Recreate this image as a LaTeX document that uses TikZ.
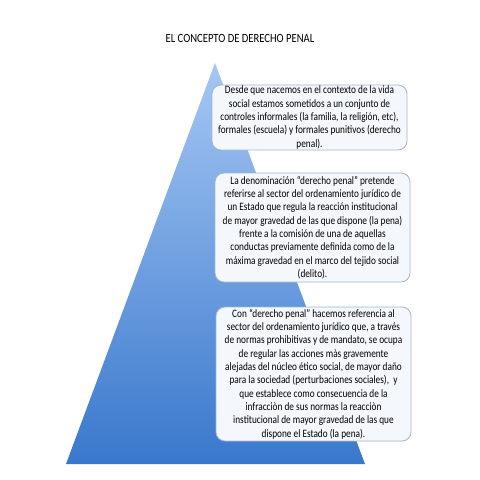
\documentclass[tikz,border=0pt]{standalone}
\usepackage{fontspec}
\setmainfont[FakeStretch=0.82]{Carlito}
\newfontfamily\titlefont[FakeStretch=0.85]{Carlito}
\usetikzlibrary{shadings}
\definecolor{triTop}{HTML}{A6C7F4}
\definecolor{triBot}{HTML}{3978CC}
\definecolor{boxFill}{HTML}{F4F8FD}
\definecolor{boxLine}{HTML}{A3B4CA}
\tikzset{
  infobox/.style={draw=boxLine, line width=0.8pt, fill=boxFill, rounded corners=9pt,
    align=center, inner sep=0pt, font=\fontsize{11.3}{13.3}\selectfont, text=black},
}
\begin{document}
\begin{tikzpicture}[x=1pt,y=-1pt]
\useasboundingbox (0,0) rectangle (480,480);
\fill[white] (0,0) rectangle (480,480);
\node[font=\titlefont\fontsize{12.5}{14}\selectfont] (title) at (240,38) {EL CONCEPTO DE DERECHO PENAL};
\shade[top color=triTop, bottom color=triBot] (215,63) -- (365,464) -- (66,464) -- cycle;
\node[infobox, minimum width=195pt, minimum height=65pt] (b1) at (309.5,117.5)
 {Desde que nacemos en el contexto de la vida\\social estamos sometidos a un conjunto de\\controles informales (la familia, la religión, etc),\\formales (escuela) y formales punitivos (derecho\\penal).};
\node[infobox, minimum width=195pt, minimum height=109pt] (b2) at (312.5,227.5)
 {La denominación “derecho penal” pretende\\referirse al sector del ordenamiento jurídico de\\un Estado que regula la reacción institucional\\de mayor gravedad de las que dispone (la pena)\\frente a la comisión de una de aquellas\\conductas previamente definida como de la\\máxima gravedad en el marco del tejido social\\(delito).};
\node[infobox, minimum width=195pt, minimum height=134pt] (b3) at (313.5,374)
 {Con “derecho penal” hacemos referencia al\\sector del ordenamiento jurídico que, a través\\de normas prohibitivas y de mandato, se ocupa\\de regular las acciones màs gravemente\\alejadas del núcleo ético social, de mayor daño\\para la sociedad (perturbaciones sociales),~ y\\que establece como consecuencia de la\\infracciòn de sus normas la reacciòn\\institucional de mayor gravedad de las que\\dispone el Estado (la pena).};
\end{tikzpicture}
\end{document}
